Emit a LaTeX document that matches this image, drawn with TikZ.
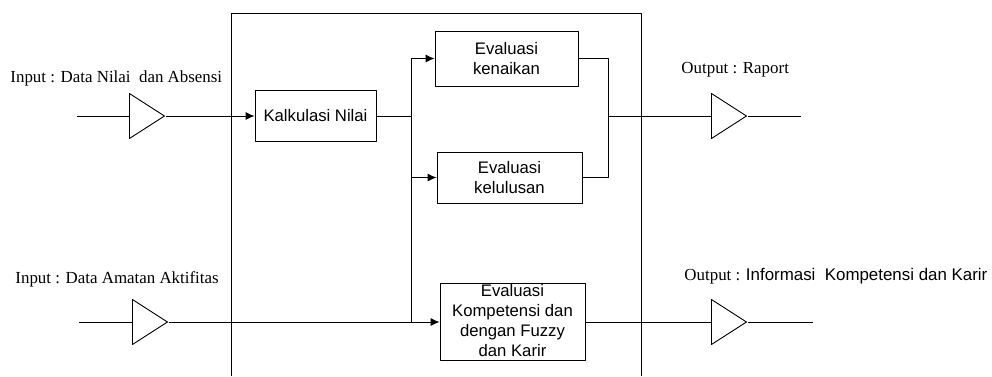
\documentclass[tikz,border=0pt]{standalone}
\usepackage{fontspec}
\setmainfont{Liberation Serif}
\setsansfont{Liberation Sans}
\usetikzlibrary{shapes.geometric,arrows.meta}
\tikzset{
	blok/.style={draw, inner sep=0pt, align=center, font=\sffamily\fontsize{16.7}{19.5}\selectfont},
	teks/.style={inner sep=0pt, anchor=base west, font=\fontsize{16.9}{20}\selectfont},
	penguat/.style={draw, isosceles triangle, isosceles triangle stretches, minimum height=35pt, minimum width=45pt, inner sep=0pt, anchor=lower side},
	panah/.style={-{Latex[length=9pt,width=8pt]}}
}
\begin{document}
\begin{tikzpicture}[x=1pt, y=-1pt, line width=0.9pt, line join=round]
	\useasboundingbox (0,0) rectangle (992,376);
	% bingkai sistem
	\draw (231,376) |- (641,13) -- (641,376);
	% ujung masukan dan keluaran
	\coordinate (in1) at (77,116);
	\coordinate (in2) at (79,322);
	\coordinate (out1) at (801,116);
	\coordinate (out2) at (813,322);
	\coordinate (cabang) at (411,116);
	\coordinate (gabung) at (608,116);
	% penguat
	\node[penguat] (p1) at (129,116) {};
	\node[penguat] (p2) at (132,322) {};
	\node[penguat] (p3) at (711,116) {};
	\node[penguat] (p4) at (711,322) {};
	% proses
	\node[blok, minimum width=121pt, minimum height=51pt] (kalk) at (315.5,116) {Kalkulasi Nilai};
	\node[blok, minimum width=143pt, minimum height=55pt] (naik) at (506.5,58.5) {Evaluasi\\kenaikan};
	\node[blok, minimum width=145pt, minimum height=51pt] (lulus) at (509.5,177.5) {Evaluasi\\kelulusan};
	\node[blok, minimum width=145pt, minimum height=77pt] (komp) at (512.5,322) {};
	\node[blok, draw=none, font=\sffamily\fontsize{16.7}{20.3}\selectfont] at (512.5,320.5) {Evaluasi\\Kompetensi dan\\dengan Fuzzy\\dan Karir};
	% label
	\node[teks] (lab1) at (10,82) {Input : Data Nilai\ \ dan Absensi};
	\node[teks] (lab2) at (15,283) {Input : Data Amatan Aktifitas};
	\node[teks] (lab3) at (681,73) {Output : Raport};
	\node[teks] (lab4) at (684,280) {Output : {\sffamily Informasi\ \ Kompetensi dan Karir}};
	% aliran
	\draw (in1) -- (p1.lower side);
	\draw[panah] (p1.apex) -- (kalk);
	\draw (kalk) -- (cabang);
	\draw[panah] (cabang) |- (naik);
	\draw[panah] (cabang) |- (lulus);
	\draw (cabang) -- (cabang |- komp);
	\draw (in2) -- (p2.lower side);
	\draw[panah] (p2.apex) -- (komp);
	\draw (naik) -| (gabung) |- (lulus);
	\draw (gabung) -- (p3.lower side);
	\draw (p3.apex) -- (out1);
	\draw (komp) -- (p4.lower side);
	\draw (p4.apex) -- (out2);
\end{tikzpicture}
\end{document}
